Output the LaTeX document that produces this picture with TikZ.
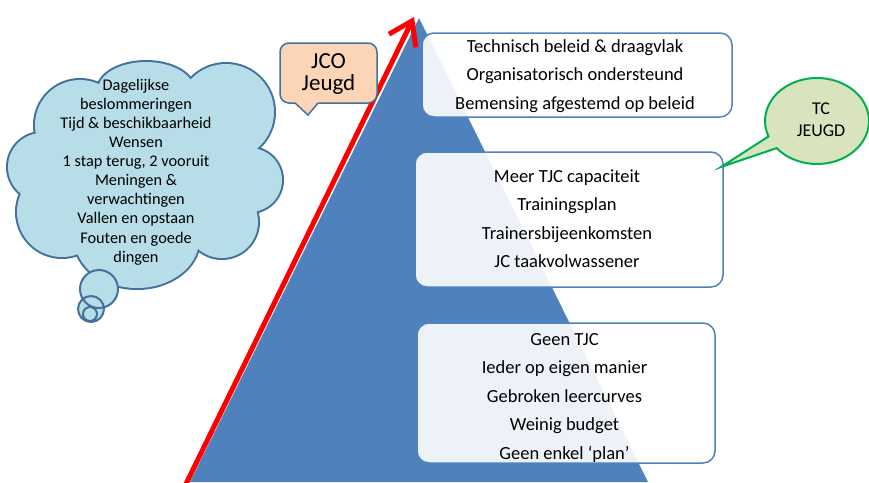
\documentclass[tikz,border=0pt]{standalone}
\usepackage{fontspec}
\setmainfont{Carlito}
\usetikzlibrary{arrows.meta,shapes.callouts}
\definecolor{triblue}{HTML}{4F81BD}
\definecolor{boxblue}{HTML}{4F81BD}
\definecolor{cloudfill}{HTML}{B7DEE8}
\definecolor{cloudline}{HTML}{41719C}
\definecolor{jcofill}{HTML}{FBD5B5}
\definecolor{tcfill}{HTML}{D7E4BD}
\definecolor{tcline}{HTML}{00B050}
\newcommand\mycloudpath{(146,90) ellipse [x radius=48, y radius=28]
  (226,112) circle [radius=48]
  (250,180) circle [radius=32]
  (222,222) circle [radius=36]
  (137,240) ellipse [x radius=62, y radius=48]
  (62,212) circle [radius=45]
  (42,167) circle [radius=34]
  (80,125) circle [radius=45]
  (150,170) ellipse [x radius=100, y radius=80]}
\begin{document}
\begin{tikzpicture}[x=1pt,y=-1pt,
  stagebox/.style={draw=boxblue, line width=1.5pt, fill=white, fill opacity=0.9, rounded corners=12pt, inner sep=0pt},
  stagetext/.style={align=center, text=black, font=\fontsize{18.5}{28.2}\selectfont},
  redarrow/.style={draw=red, line width=5pt, -{Straight Barb[length=22pt,width=30pt]}},
  bubbleline/.style={draw=cloudline, line width=2pt}
]
\useasboundingbox (0,0) rectangle (869,482);

% pyramid
\fill[triblue] (190,482) -- (419,18) -- (648,482) -- cycle;

% red arrow
\coordinate (arrowstart) at (184,488);
\coordinate (arrowtip) at (414,17);
\begin{scope}
\clip (0,0) rectangle (869,482);
\draw[redarrow] (arrowstart) -- (arrowtip);
\end{scope}

% stage boxes
\node[stagebox, minimum width=310pt, minimum height=84pt] (topbox) at (577,75) {};
\node[stagetext] (toptext) at (575,76) {Technisch beleid \& draagvlak\\Organisatorisch ondersteund\\Bemensing afgestemd op beleid};

\node[stagebox, minimum width=308pt, minimum height=135pt] (midbox) at (569,219.5) {};
\node[stagetext] (midtext) at (567,218.7) {Meer TJC capaciteit\\Trainingsplan\\Trainersbijeenkomsten\\JC taakvolwassener};

\node[stagebox, minimum width=298pt, minimum height=140pt] (botbox) at (566,393) {};
\node[stagetext, font=\fontsize{18.5}{28.5}\selectfont] (bottext) at (564.5,397.8) {Geen TJC\\Ieder op eigen manier\\Gebroken leercurves\\Weinig budget\\Geen enkel ‘plan’};

% cloud
\draw[draw=cloudline, line width=4pt] \mycloudpath;
\fill[cloudfill] \mycloudpath;
\fill[cloudfill] (99,289) circle [radius=19] (91,309) circle [radius=13] (90,314) circle [radius=7];
\draw[bubbleline] (99,289) circle [radius=19] (91,309) circle [radius=13] (90,314) circle [radius=7];
\node[align=center, font=\fontsize{16.3}{19.08}\selectfont] (cloudtext) at (136,172) {Dagelijkse\\beslommeringen\\Tijd \& beschikbaarheid\\Wensen\\1 stap terug, 2 vooruit\\Meningen \&\\verwachtingen\\Vallen en opstaan\\Fouten en goede\\dingen};

% JCO callout
\draw[draw=cloudline, line width=1.5pt, fill=jcofill, rounded corners=9pt] (280,43) rectangle (377,103);
\fill[jcofill] (294,101.5) -- (308,114) -- (319,101.5) -- cycle;
\draw[draw=cloudline, line width=1.5pt, line join=miter] (295,103) -- (308,115) -- (318,103);
\node[align=center, font=\fontsize{23}{22}\selectfont] (jco) at (328.5,74.5) {JCO\\Jeugd};

% TC callout
\coordinate (tcptr) at (721,167);
\node[ellipse callout, draw=tcline, fill=tcfill, line width=2pt, minimum width=104pt, minimum height=86pt, inner sep=0pt, callout absolute pointer=(tcptr), callout pointer arc=18] (tcbubble) at (817,121) {};
\node[align=center, font=\fontsize{18}{22}\selectfont] (tc) at (821,120.2) {TC\\JEUGD};
\end{tikzpicture}
\end{document}
